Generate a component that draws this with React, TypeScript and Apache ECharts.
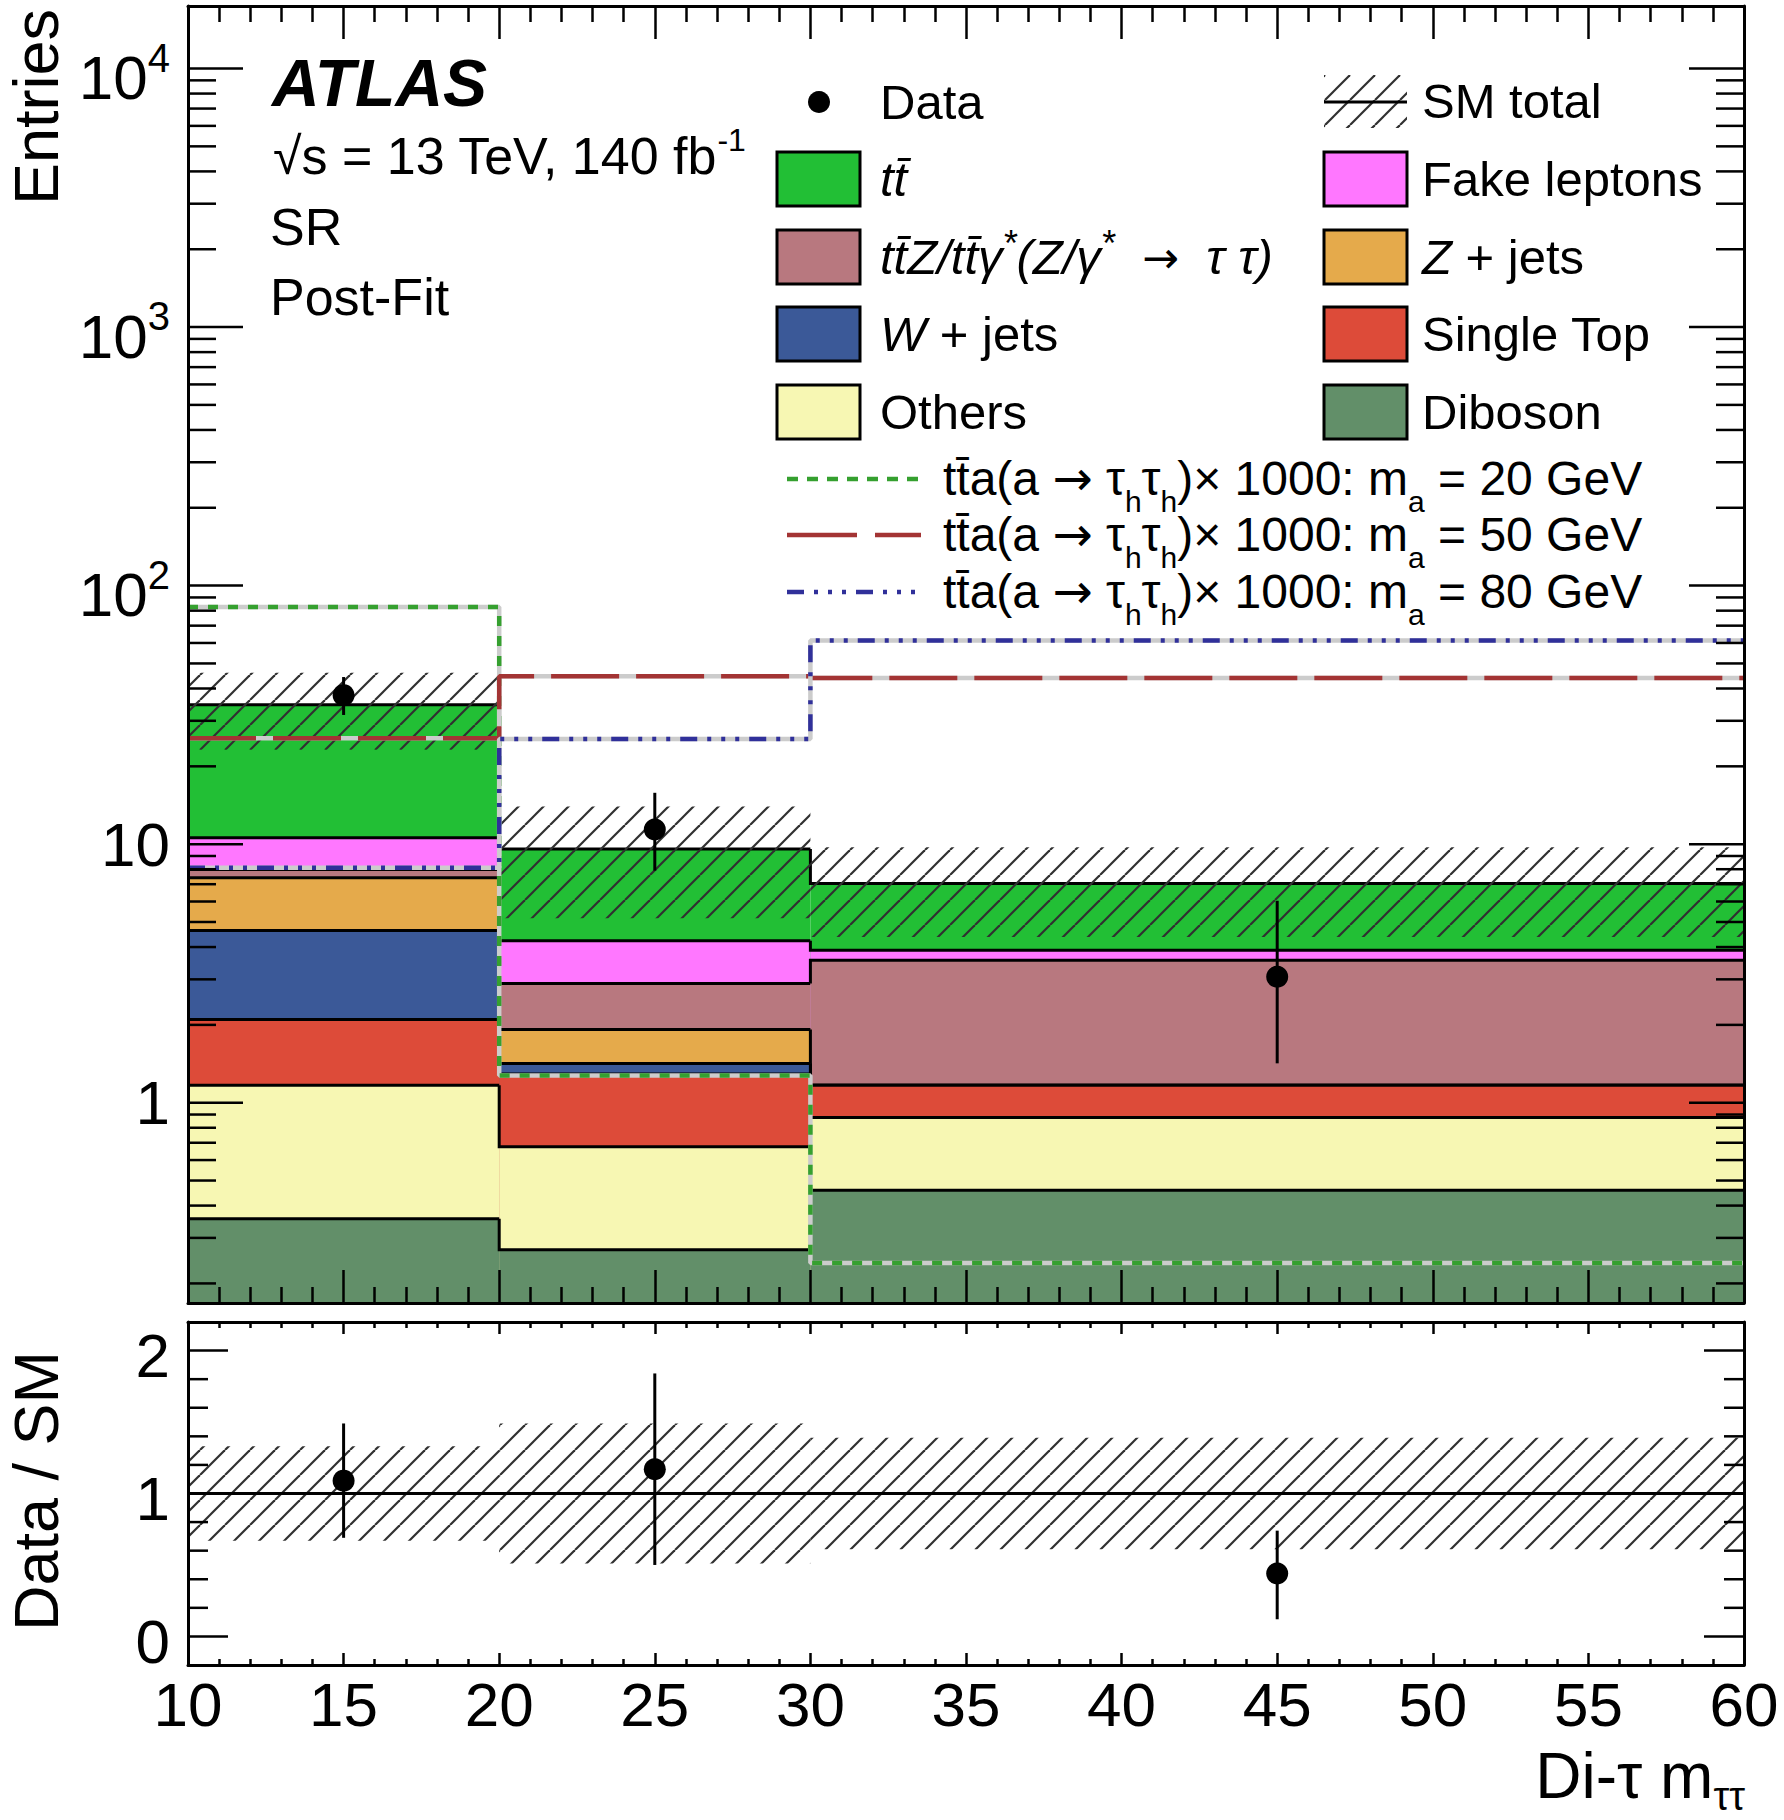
import React, { useEffect, useRef } from 'react';
import * as echarts from 'echarts';

const FONT = '"Liberation Sans", Arial, Helvetica, sans-serif';
const ARROW_FONT = '"DejaVu Sans", sans-serif';

// di-tau mass bin edges (GeV)
const binEdges = [10, 20, 30, 60];

// post-fit background yields per bin, stacked from the bottom up
const diboson = [0.356, 0.27, 0.459];
const others = [0.813, 0.405, 0.418];
const singleTop = [0.93, 0.615, 0.292];
const wJets = [2.54, 0.127, 0];
const zJets = [2.77, 0.503, 0];
const ttZ = [0.57, 0.97, 2.39];
const fakeLeptons = [2.62, 1.34, 0.33];
const ttbar = [24.0, 5.35, 3.16];

// relative uncertainty of the SM total (hatched band)
const smRelUnc = [0.33, 0.46, 0.38];

// data
const dataX = [15, 25, 45];
const dataY = [37.7, 11.4, 3.07];
const dataErrUp = [6.6, 4.4, 2.97];
const dataErrDown = [6.1, 3.5, 1.65];

// signal x 1000
const signal20 = [82.6, 1.275, 0.24];
const signal50 = [25.7, 44.6, 43.9];
const signal80 = [8.1, 25.5, 61.3];

// ratio panel
const ratioY = [1.09, 1.17, 0.44];
const ratioErrUp = [0.4, 0.67, 0.3];
const ratioErrDown = [0.4, 0.67, 0.32];
const ratioRelUnc = [0.33, 0.49, 0.39];

// axis ticks
const entriesMajorTicks = [1, 10, 100, 1000, 10000];
const entriesTickLabels = ['{b|1}', '{b|10}', '{b|10}{p|2}', '{b|10}{p|3}', '{b|10}{p|4}'];
const ratioMajorTicks = [0, 1, 2];
const ratioTickLabels = ['0', '1', '2'];

const Y_MIN = 0.168;
const Y_MAX = 17450;
const R_MIN = -0.2;
const R_MAX = 2.2;

const layers = [
  { name: 'Diboson', values: diboson, color: '#628f69' },
  { name: 'Others', values: others, color: '#f7f7b3' },
  { name: 'Single Top', values: singleTop, color: '#dd4b39' },
  { name: 'W + jets', values: wJets, color: '#3b5998' },
  { name: 'Z + jets', values: zJets, color: '#e5aa4b' },
  { name: 'ttZ', values: ttZ, color: '#b8787f' },
  { name: 'Fake leptons', values: fakeLeptons, color: '#ff77ff' },
  { name: 'ttbar', values: ttbar, color: '#22bf35' },
];

const cumulative: number[][] = [];
layers.forEach((layer, k) => {
  cumulative.push(layer.values.map((v, b) => v + (k > 0 ? cumulative[k - 1][b] : 0)));
});
const smTotal = cumulative[cumulative.length - 1];

const stepPoints = (vals: number[]) =>
  vals.flatMap((v, b) => [[binEdges[b], v], [binEdges[b + 1], v]]);

const makeHatch = () => {
  const s = 25;
  const c = document.createElement('canvas');
  c.width = s;
  c.height = s;
  const ctx = c.getContext('2d');
  if (ctx) {
    ctx.strokeStyle = '#303030';
    ctx.lineWidth = 2.2;
    [-s, 0, s].forEach((o) => {
      ctx.beginPath();
      ctx.moveTo(o, s);
      ctx.lineTo(o + s, 0);
      ctx.stroke();
    });
  }
  return c;
};

const line = (x1: number, y1: number, x2: number, y2: number, w = 3) => ({
  type: 'line',
  shape: { x1, y1, x2, y2 },
  style: { stroke: '#000', lineWidth: w },
});

function buildOption(hatch: any): any {
  const xBase = (gridIndex: number, position: string, major: number, minor: number, labels: boolean) => ({
    type: 'value',
    gridIndex,
    position,
    min: 10,
    max: 60,
    interval: 5,
    z: 10,
    splitLine: { show: false },
    axisLine: { show: true, onZero: false, lineStyle: { color: '#000', width: 3 } },
    axisTick: { show: true, inside: true, length: major, lineStyle: { color: '#000', width: 2.5 } },
    minorTick: { show: true, splitNumber: 5, length: minor, lineStyle: { color: '#000', width: 2.5 } },
    axisLabel: labels
      ? { show: true, fontSize: 62, fontFamily: FONT, color: '#000', margin: 8 }
      : { show: false },
  });

  const yBase = (gridIndex: number, position: string, log: boolean) => ({
    type: log ? 'log' : 'value',
    logBase: 10,
    gridIndex,
    position,
    min: log ? Y_MIN : R_MIN,
    max: log ? Y_MAX : R_MAX,
    z: 10,
    splitLine: { show: false },
    axisLine: { show: true, onZero: false, lineStyle: { color: '#000', width: 3 } },
    axisTick: { show: false },
    axisLabel: { show: false },
  });

  const stackSeries = layers
    .map((layer, k) => ({
      type: 'custom',
      xAxisIndex: 0,
      yAxisIndex: 0,
      encode: { x: [0, 1], y: [2, 3] },
      data: binEdges.slice(0, -1).map((e, b) => [
        e,
        binEdges[b + 1],
        cumulative[k][b],
        b > 0 ? cumulative[k][b - 1] : cumulative[k][b],
      ]),
      renderItem: (_p: any, api: any) => {
        const pTop = api.coord([api.value(0), api.value(2)]);
        const pEnd = api.coord([api.value(1), Y_MIN]);
        const pPrev = api.coord([api.value(0), api.value(3)]);
        return {
          type: 'group',
          children: [
            {
              type: 'rect',
              shape: { x: pTop[0], y: pTop[1], width: pEnd[0] - pTop[0], height: pEnd[1] - pTop[1] },
              style: { fill: layer.color },
            },
            {
              type: 'polyline',
              shape: { points: [[pTop[0], pPrev[1]], [pTop[0], pTop[1]], [pEnd[0], pTop[1]]] },
              style: { stroke: '#000', lineWidth: 3, fill: 'none' },
            },
          ],
        };
      },
    }))
    .reverse();

  const bandSeries = (xi: number, yi: number, lo: number[], hi: number[]) => ({
    type: 'custom',
    xAxisIndex: xi,
    yAxisIndex: yi,
    encode: { x: [0, 1], y: [2, 3] },
    data: binEdges.slice(0, -1).map((e, b) => [e, binEdges[b + 1], lo[b], hi[b]]),
    renderItem: (_p: any, api: any) => {
      const a = api.coord([api.value(0), api.value(3)]);
      const c = api.coord([api.value(1), api.value(2)]);
      return {
        type: 'rect',
        shape: { x: a[0], y: a[1], width: c[0] - a[0], height: c[1] - a[1] },
        style: { fill: hatch },
      };
    },
  });

  const signalSeries = (vals: number[], color: string, dash: number[]) => [
    {
      type: 'line',
      xAxisIndex: 0,
      yAxisIndex: 0,
      data: stepPoints(vals),
      symbol: 'none',
      lineStyle: { color: '#cccccc', width: 4.5 },
    },
    {
      type: 'line',
      xAxisIndex: 0,
      yAxisIndex: 0,
      data: stepPoints(vals),
      symbol: 'none',
      lineStyle: { color, width: 4.5, type: dash },
    },
  ];

  const pointSeries = (xi: number, yi: number, ys: number[], up: number[], down: number[]) => ({
    type: 'custom',
    xAxisIndex: xi,
    yAxisIndex: yi,
    encode: { x: 0, y: [1, 2, 3] },
    data: dataX.map((x, i) => [x, ys[i], ys[i] + up[i], ys[i] - down[i]]),
    renderItem: (_p: any, api: any) => {
      const p = api.coord([api.value(0), api.value(1)]);
      const pu = api.coord([api.value(0), api.value(2)]);
      const pd = api.coord([api.value(0), api.value(3)]);
      return {
        type: 'group',
        children: [
          line(p[0], pu[1], p[0], pd[1], 3),
          { type: 'circle', shape: { cx: p[0], cy: p[1], r: 11 }, style: { fill: '#000' } },
        ],
      };
    },
  });

  const tickSeries = (
    xi: number,
    yi: number,
    majors: number[],
    minors: number[],
    labels: string[],
    majorLen: number,
    minorLen: number,
    dy: (i: number) => number,
  ) => ({
    type: 'custom',
    xAxisIndex: xi,
    yAxisIndex: yi,
    z: 12,
    encode: { x: 0, y: 1 },
    data: [
      ...majors.map((v, i) => [10, v, 1, i]),
      ...minors.map((v) => [10, v, 0, -1]),
    ],
    renderItem: (_p: any, api: any) => {
      const v = api.value(1);
      const major = api.value(2) === 1;
      const idx = api.value(3);
      const pl = api.coord([10, v]);
      const pr = api.coord([60, v]);
      const len = major ? majorLen : minorLen;
      const children: any[] = [
        line(pl[0], pl[1], pl[0] + len, pl[1], 2.5),
        line(pr[0] - len, pr[1], pr[0], pr[1], 2.5),
      ];
      if (idx >= 0) {
        children.push({
          type: 'text',
          x: pl[0] - 18,
          y: pl[1] + dy(idx),
          style: {
            text: labels[idx],
            fill: '#000',
            fontSize: 62,
            fontFamily: FONT,
            align: 'right',
            verticalAlign: 'middle',
            rich: {
              b: { fontSize: 62, lineHeight: 80, fontFamily: FONT, fill: '#000' },
              p: { fontSize: 40, lineHeight: 40, verticalAlign: 'top', fontFamily: FONT, fill: '#000' },
            },
          },
        });
      }
      return { type: 'group', children };
    },
  });

  const logMinors: number[] = [];
  for (let d = -1; d <= 4; d++) {
    for (let k = 2; k <= 9; k++) {
      const v = k * Math.pow(10, d);
      if (v > Y_MIN && v < Y_MAX) logMinors.push(v);
    }
  }
  const ratioMinors: number[] = [];
  for (let i = 1; i < 12; i++) {
    const v = Math.round((R_MIN + i * 0.2) * 10) / 10;
    if (!ratioMajorTicks.includes(v)) ratioMinors.push(v);
  }

  const txt = (x: number, y: number, text: string, fontSize: number, extra: any = {}) => ({
    type: 'text',
    x,
    y,
    silent: true,
    style: {
      text,
      fill: '#000',
      fontSize,
      fontFamily: FONT,
      align: 'left',
      verticalAlign: 'middle',
      ...extra,
    },
  });

  const LF = 49;
  const legendRich = {
    i: { fontStyle: 'italic', fontSize: LF, lineHeight: 64, fontFamily: FONT, fill: '#000' },
    r: { fontSize: LF, lineHeight: 64, fontFamily: FONT, fill: '#000' },
    a: { fontSize: 44, lineHeight: 64, fontFamily: ARROW_FONT, fill: '#000' },
    p: { fontStyle: 'italic', fontSize: 36, lineHeight: 36, verticalAlign: 'top', fontFamily: FONT, fill: '#000' },
  };
  const SF = 48;
  const sigRich = {
    m: { fontSize: SF, lineHeight: 76, fontFamily: FONT, fill: '#000' },
    a: { fontSize: 48, lineHeight: 76, fontFamily: ARROW_FONT, fill: '#000' },
    s: { fontSize: 30, lineHeight: 30, verticalAlign: 'bottom', fontFamily: FONT, fill: '#000' },
  };
  const sigText = (m: number) =>
    `{m|tt\u0304a(a }{a|\u2192}{m| \u03c4}{s|h}{m|\u03c4}{s|h}{m|)\u00d7 1000: m}{s|a}{m| = ${m} GeV}`;

  const swatch = (x: number, y: number, fill: any) => ({
    type: 'rect',
    silent: true,
    shape: { x, y, width: 83, height: 54 },
    style: { fill, stroke: '#000', lineWidth: 3 },
  });

  const C1 = 777;
  const C2 = 1324;
  const T1 = 880;
  const T2 = 1422;
  const rows = [152, 230, 307, 385];

  const graphic: any[] = [
    { ...txt(36, 9, 'Entries', 63, { align: 'right' }), rotation: Math.PI / 2 },
    { ...txt(36, 1491, 'Data / SM', 63, { align: 'center' }), rotation: Math.PI / 2 },
    txt(1745, 1776, '{m|Di-\u03c4 m}{s|\u03c4\u03c4}', 64, {
      align: 'right',
      rich: {
        m: { fontSize: 64, lineHeight: 80, fontFamily: FONT, fill: '#000' },
        s: { fontSize: 40, lineHeight: 40, verticalAlign: 'bottom', fontFamily: FONT, fill: '#000' },
      },
    }),
    txt(272, 83, 'ATLAS', 66, { fontWeight: 'bold', fontStyle: 'italic' }),
    txt(273, 156, '{n|\u221as = 13 TeV, 140 fb}{p|-1}', 52, {
      rich: {
        n: { fontSize: 52, lineHeight: 64, fontFamily: FONT, fill: '#000' },
        p: { fontSize: 32, lineHeight: 32, verticalAlign: 'top', fontFamily: FONT, fill: '#000' },
      },
    }),
    txt(270, 227, 'SR', 52),
    txt(270, 297, 'Post-Fit', 52),

    // legend
    { type: 'circle', silent: true, shape: { cx: 819, cy: 102, r: 11 }, style: { fill: '#000' } },
    txt(T1, 102, 'Data', LF),
    { type: 'rect', silent: true, shape: { x: C2, y: 75, width: 83, height: 53 }, style: { fill: hatch } },
    { ...line(C2, 102, C2 + 83, 102, 3), silent: true },
    txt(T2, 101, 'SM total', LF),

    swatch(C1, rows[0], layers[7].color),
    txt(T1, rows[0] + 27, 'tt\u0304', LF, { fontStyle: 'italic' }),
    swatch(C1, rows[1], layers[5].color),
    txt(T1, rows[1] + 27, '{i|tt\u0304Z/tt\u0304\u03b3}{p|*}{i|(Z/\u03b3}{p|*}{r|  }{a|\u2192}{r|  }{i|\u03c4 \u03c4)}', LF, {
      rich: legendRich,
    }),
    swatch(C1, rows[2], layers[3].color),
    txt(T1, rows[2] + 27, '{i|W}{r| + jets}', LF, { rich: legendRich }),
    swatch(C1, rows[3], layers[1].color),
    txt(T1, rows[3] + 27, 'Others', LF),

    swatch(C2, rows[0], layers[6].color),
    txt(T2, rows[0] + 27, 'Fake leptons', LF),
    swatch(C2, rows[1], layers[4].color),
    txt(T2, rows[1] + 27, '{i|Z}{r| + jets}', LF, { rich: legendRich }),
    swatch(C2, rows[2], layers[2].color),
    txt(T2, rows[2] + 27, 'Single Top', LF),
    swatch(C2, rows[3], layers[0].color),
    txt(T2, rows[3] + 27, 'Diboson', LF),

    { type: 'line', silent: true, shape: { x1: 787, y1: 479, x2: 921, y2: 479 }, style: { stroke: '#35a02f', lineWidth: 4.5, lineDash: [11, 9] } },
    txt(943, 478, sigText(20), SF, { rich: sigRich }),
    { type: 'line', silent: true, shape: { x1: 787, y1: 535, x2: 921, y2: 535 }, style: { stroke: '#a33434', lineWidth: 4.5, lineDash: [70, 18] } },
    txt(943, 534, sigText(50), SF, { rich: sigRich }),
    { type: 'line', silent: true, shape: { x1: 787, y1: 592, x2: 921, y2: 592 }, style: { stroke: '#30309a', lineWidth: 4.5, lineDash: [17, 10, 4, 10, 4, 10, 4, 10] } },
    txt(943, 591, sigText(80), SF, { rich: sigRich }),
  ];

  return {
    animation: false,
    backgroundColor: '#fff',
    grid: [
      { left: 188, top: 6, width: 1556, height: 1297, outerBoundsMode: 'none', containLabel: false },
      { left: 188, top: 1322, width: 1556, height: 343, outerBoundsMode: 'none', containLabel: false },
    ],
    xAxis: [
      xBase(0, 'bottom', 33, 16, false),
      xBase(0, 'top', 33, 16, false),
      xBase(1, 'bottom', 12, 6, true),
      xBase(1, 'top', 12, 6, false),
    ],
    yAxis: [yBase(0, 'left', true), yBase(0, 'right', true), yBase(1, 'left', false), yBase(1, 'right', false)],
    series: [
      ...stackSeries,
      bandSeries(0, 0, smTotal.map((t, b) => t * (1 - smRelUnc[b])), smTotal.map((t, b) => t * (1 + smRelUnc[b]))),
      ...signalSeries(signal20, '#35a02f', [10, 10]),
      ...signalSeries(signal50, '#a33434', [68, 17]),
      ...signalSeries(signal80, '#30309a', [17, 10, 4, 10, 4, 10, 4, 10]),
      pointSeries(0, 0, dataY, dataErrUp, dataErrDown),
      tickSeries(0, 0, entriesMajorTicks, logMinors, entriesTickLabels, 55, 28, (i) => (i >= 2 ? 9 : 0)),

      bandSeries(2, 2, ratioRelUnc.map((u) => 1 - u), ratioRelUnc.map((u) => 1 + u)),
      {
        type: 'line',
        xAxisIndex: 2,
        yAxisIndex: 2,
        data: [[binEdges[0], 1], [binEdges[binEdges.length - 1], 1]],
        symbol: 'none',
        lineStyle: { color: '#000', width: 3 },
      },
      pointSeries(2, 2, ratioY, ratioErrUp, ratioErrDown),
      tickSeries(2, 2, ratioMajorTicks, ratioMinors, ratioTickLabels, 40, 20, () => 5),
    ],
    graphic,
  };
}

export default function App() {
  const ref = useRef<HTMLDivElement>(null);
  useEffect(() => {
    if (!ref.current) return;
    const chart = echarts.init(ref.current, undefined, { renderer: 'svg' });
    const hatch = { type: 'pattern', image: makeHatch(), repeat: 'repeat' };
    chart.setOption(buildOption(hatch));
    return () => chart.dispose();
  }, []);
  return (
    <div
      ref={ref}
      style={{ position: 'absolute', left: 0, top: 0, width: 1784, height: 1820, background: '#fff' }}
    />
  );
}
